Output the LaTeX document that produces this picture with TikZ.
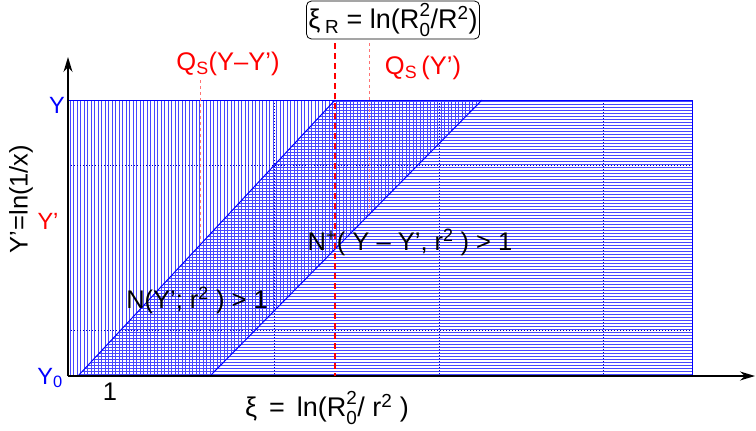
\documentclass[tikz,border=0pt]{standalone}
\usepackage{fontspec}
\setmainfont{Liberation Sans}
\usetikzlibrary{arrows.meta}
\newcommand\supzero{\rlap{\raisebox{0.14em}{\textsuperscript{2}}}\raisebox{-0.12em}{\textsubscript{0}}}
\begin{document}
\begin{tikzpicture}[x=1pt,y=-1pt,
  hatch/.style={blue!72, line width=0.6pt},
  edge/.style={blue, line width=1pt},
  griddot/.style={blue!70!black, line width=0.3pt, dash pattern=on 0.8pt off 2.2pt},
  axis/.style={black, line width=1.4pt, -{Stealth[length=15pt,width=9pt]}},
  reddash/.style={red, line width=1.3pt, dash pattern=on 6pt off 4pt},
  qsdash/.style={red!55, line width=0.9pt, dash pattern=on 3pt off 3pt},
  lbl/.style={font=\fontsize{25.5}{30}\selectfont, inner sep=1pt},
  big/.style={font=\fontsize{27}{32}\selectfont, inner sep=1pt},
  tick/.style={font=\fontsize{23.5}{28}\selectfont, inner sep=1pt}]
\useasboundingbox (0,0) rectangle (756,431);
% key points
\coordinate (O) at (68,376);
\coordinate (ytop) at (68,57);
\coordinate (xend) at (755,376);
\coordinate (d1a) at (78,376);
\coordinate (d1b) at (335,100);
\coordinate (d2a) at (210,376);
\coordinate (d2b) at (482,100);
% vertical hatching
\begin{scope}
\clip (68,100) -- (482,100) -- (210,376) -- (68,376) -- cycle;
\foreach \x in {70,73.5,...,482} \draw[hatch] (\x,100) -- (\x,376);
\end{scope}
% horizontal hatching
\begin{scope}
\clip (78,376) -- (335,100) -- (692,100) -- (692,376) -- cycle;
\foreach \y in {101,104,...,376} \draw[hatch] (70,\y) -- (692,\y);
\end{scope}
% dotted grid
\draw[griddot] (68,165) -- (692,165);
\draw[griddot] (68,330) -- (692,330);
\draw[griddot] (274,100) -- (274,376);
\draw[griddot] (439,100) -- (439,376);
\draw[griddot] (603,100) -- (603,376);
% region edges
\draw[edge] (68,100) rectangle (692,376);
\draw[edge] (d1a) -- (d1b);
\draw[edge] (d2a) -- (d2b);
% axes
\draw[axis] (O) -- (ytop);
\draw[axis] (O) -- (xend);
% red lines
\coordinate (r1) at (335,43);
\coordinate (r1b) at (335,376);
\coordinate (q1) at (200,80);
\coordinate (q1b) at (200,243);
\coordinate (q2) at (369,43);
\coordinate (q2b) at (369,213);
\draw[reddash] (r1) -- (r1b);
\draw[qsdash] (q1) -- (q1b);
\draw[qsdash] (q2) -- (q2b);
% labels
\node[big, draw, rounded corners=5pt, line width=0.8pt, inner sep=2pt] (xiR) at (393,20)
  {ξ\,\textsubscript{R} = ln(R\supzero/R\textsuperscript{2})};
\node[lbl, red] (qs1) at (228,64) {Q\textsubscript{S}(Y–Y’)};
\node[lbl, red] (qs2) at (423,68) {Q\textsubscript{S}\,(Y’)};
\node[tick, blue] (ly) at (57,105) {Y};
\node[tick, red] (lyp) at (48,221) {Y’};
\node[tick, blue] (ly0) at (50,378) {Y\textsubscript{0}};
\node[lbl, rotate=90] (ylab) at (21,199) {Y’=ln(1/x)};
\node[lbl] (one) at (110,392) {1};
\node[big] (xlab) at (327,408) {ξ \,=\, ln(R\supzero/ r\textsuperscript{2} )};
\node[lbl] (n1) at (197,300) {N(Y’; r\textsuperscript{2} ) > 1};
\node[lbl] (n2) at (410,242) {N\textsuperscript{+}( Y – Y’, r\textsuperscript{2} ) > 1};
\end{tikzpicture}
\end{document}
